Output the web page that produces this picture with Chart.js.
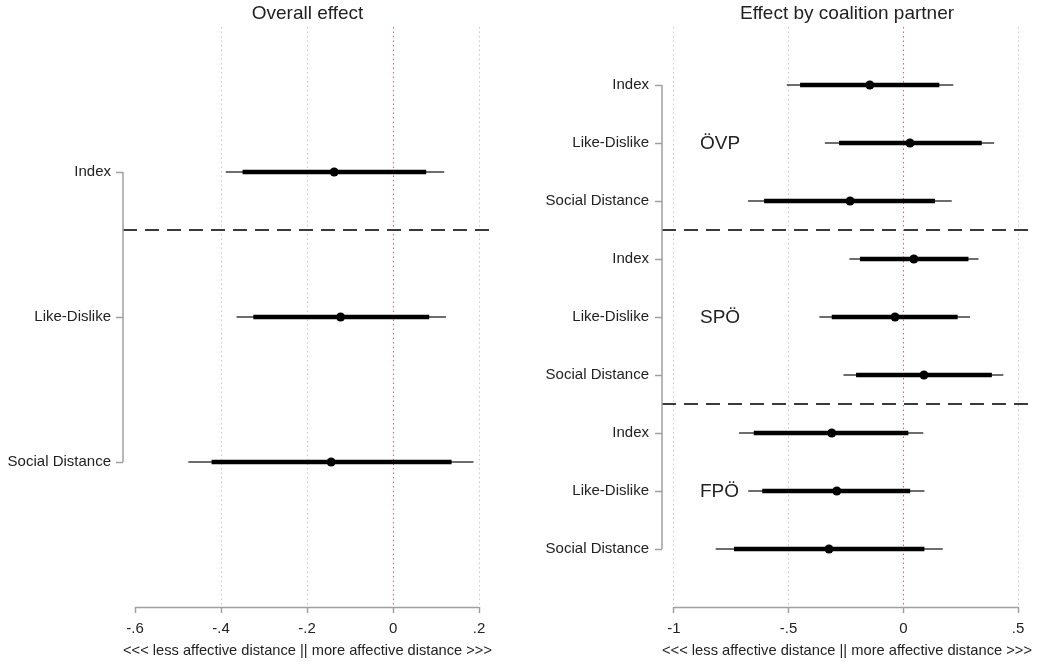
<!DOCTYPE html>
<html>
<head>
<meta charset="utf-8">
<script src="https://cdn.jsdelivr.net/npm/chart.js@4/dist/chart.umd.min.js"></script>
<style>
  body { margin: 0; background: #fff; }
  .panel { position: absolute; top: 0; width: 523px; height: 664px; }
</style>
</head>
<body>
<div class="panel" style="left:0"><canvas id="overallChart" width="523" height="664"></canvas></div>
<div class="panel" style="left:523px"><canvas id="partnerChart" width="523" height="664"></canvas></div>
<script>
// Overall effect
const measures = ['Index', 'Like-Dislike', 'Social Distance'];
const overallEst = [-0.137, -0.122, -0.144];
const overallLo95 = [-0.389, -0.364, -0.476];
const overallHi95 = [0.119, 0.123, 0.187];
const overallLo90 = [-0.350, -0.325, -0.422];
const overallHi90 = [0.077, 0.084, 0.136];
const overallTicks = [-0.6, -0.4, -0.2, 0, 0.2];
const overallSeps = [0.4];

// Effect by coalition partner (ÖVP, SPÖ, FPÖ x 3 measures)
const partners = ['ÖVP', 'SPÖ', 'FPÖ'];
const partnerRows = ['Index', 'Like-Dislike', 'Social Distance', 'Index', 'Like-Dislike', 'Social Distance', 'Index', 'Like-Dislike', 'Social Distance'];
const partnerEst = [-0.146, 0.029, -0.232, 0.046, -0.036, 0.090, -0.312, -0.290, -0.324];
const partnerLo95 = [-0.508, -0.342, -0.677, -0.235, -0.366, -0.261, -0.716, -0.676, -0.818];
const partnerHi95 = [0.218, 0.396, 0.211, 0.328, 0.291, 0.436, 0.087, 0.092, 0.172];
const partnerLo90 = [-0.450, -0.280, -0.607, -0.189, -0.312, -0.206, -0.652, -0.615, -0.738];
const partnerHi90 = [0.157, 0.342, 0.138, 0.284, 0.237, 0.386, 0.022, 0.030, 0.092];
const partnerTicks = [-1, -0.5, 0, 0.5];
const partnerSeps = [2.5, 5.5];

const axisTitle = '<<< less affective distance || more affective distance >>>';

Chart.defaults.font.family = '"Liberation Sans", Arial, sans-serif';
Chart.defaults.color = '#333';

const AXIS_GREY = '#a0a0a0';
const ZERO_RED = '#ee5a6a';

function fmtTick(v) {
    if (v === 0) return '0';
    return String(v).replace('0.', '.');
}

function buildDatasets(est, lo95, hi95, lo90, hi90, seps, xMin, xMax) {
    const sets = [{
        data: est.map((v, i) => ({ x: v, y: i })),
        pointRadius: 4.5,
        pointBorderWidth: 0,
        backgroundColor: '#000',
        order: 0,
    }];
    est.forEach((_, i) => {
        sets.push({
            data: [{ x: lo90[i], y: i }, { x: hi90[i], y: i }],
            showLine: true, borderColor: '#000', borderWidth: 4.5, pointRadius: 0, order: 1,
        });
        sets.push({
            data: [{ x: lo95[i], y: i }, { x: hi95[i], y: i }],
            showLine: true, borderColor: '#3c3c3c', borderWidth: 1.5, pointRadius: 0, order: 2,
        });
    });
    seps.forEach(s => {
        sets.push({
            data: [{ x: xMin, y: s }, { x: xMax, y: s }],
            showLine: true, borderColor: '#3a3a3a', borderWidth: 2, borderDash: [14, 8], pointRadius: 0, order: 3,
        });
    });
    return sets;
}

// axis lines only span first..last tick, like Stata
const axisLines = {
    id: 'axisLines',
    afterDraw(chart) {
        const { ctx, chartArea, scales: { x, y } } = chart;
        const xt = x.ticks, yt = y.ticks;
        ctx.save();
        ctx.strokeStyle = AXIS_GREY;
        ctx.lineWidth = 1.5;
        ctx.beginPath();
        ctx.moveTo(x.getPixelForValue(xt[0].value), chartArea.bottom + 0.5);
        ctx.lineTo(x.getPixelForValue(xt[xt.length - 1].value), chartArea.bottom + 0.5);
        ctx.moveTo(chartArea.left, y.getPixelForValue(yt[0].value));
        ctx.lineTo(chartArea.left, y.getPixelForValue(yt[yt.length - 1].value));
        ctx.stroke();
        ctx.restore();
    }
};

const groupLabels = {
    id: 'groupLabels',
    afterDatasetsDraw(chart) {
        const { ctx, chartArea, scales: { y } } = chart;
        ctx.save();
        ctx.font = '19px "Liberation Sans", Arial, sans-serif';
        ctx.fillStyle = '#222';
        ctx.textAlign = 'left';
        ctx.textBaseline = 'middle';
        partners.forEach((p, k) => {
            ctx.fillText(p, chartArea.left + 38, y.getPixelForValue(k * 3 + 1) + 1);
        });
        ctx.restore();
    }
};

function makeChart(id, cfg) {
    const ctx = document.getElementById(id).getContext('2d');
    // grid colour per tick: red at zero, optional hidden first line
    const gridColors = cfg.ticks.map((v, i) => {
        if (v === 0) return ZERO_RED;
        if (cfg.hideFirstGrid && i === 0) return 'rgba(0,0,0,0)';
        return '#c8c8c8';
    });
    return new Chart(ctx, {
        type: 'scatter',
        data: { datasets: buildDatasets(cfg.est, cfg.lo95, cfg.hi95, cfg.lo90, cfg.hi90, cfg.seps, cfg.xMin, cfg.xMax) },
        options: {
            responsive: false,
            animation: false,
            layout: { padding: { left: 0, right: cfg.padRight, top: 0, bottom: 0 } },
            plugins: {
                legend: { display: false },
                tooltip: { enabled: false },
                title: {
                    display: true,
                    text: cfg.title,
                    fullSize: false,
                    color: '#222',
                    font: { size: 19, weight: 'normal' },
                    padding: { top: 2, bottom: 2.2 },
                },
            },
            scales: {
                x: {
                    type: 'linear',
                    min: cfg.xMin,
                    max: cfg.xMax,
                    afterBuildTicks: s => { s.ticks = cfg.ticks.map(v => ({ value: v })); },
                    afterFit: s => { s.height = 57; },
                    ticks: { callback: v => fmtTick(v), color: '#222', font: { size: 15 }, padding: 7, maxRotation: 0, autoSkip: false },
                    grid: {
                        color: gridColors,
                        lineWidth: 1,
                        drawTicks: true,
                        tickLength: 6,
                        tickColor: AXIS_GREY,
                        tickWidth: 1.5,
                        tickBorderDash: [],
                    },
                    border: { display: false, dash: [1.5, 3] },
                    title: { display: true, text: axisTitle, color: '#222', font: { size: 15 }, padding: { top: 0, bottom: 4 } },
                },
                y: {
                    type: 'linear',
                    reverse: true,
                    min: -1,
                    max: cfg.rows.length,
                    afterBuildTicks: s => { s.ticks = cfg.rows.map((_, i) => ({ value: i })); },
                    afterFit: s => { s.width = cfg.yWidth; },
                    ticks: { callback: v => cfg.rows[v], color: '#222', font: { size: 15 }, padding: cfg.yPad, autoSkip: false },
                    grid: {
                        drawOnChartArea: false,
                        drawTicks: true,
                        tickLength: 7,
                        tickColor: AXIS_GREY,
                        tickWidth: 1.5,
                    },
                    border: { display: false },
                },
            },
        },
        plugins: cfg.extraPlugins,
    });
}

makeChart('overallChart', {
    title: 'Overall effect',
    rows: measures,
    est: overallEst, lo95: overallLo95, hi95: overallHi95, lo90: overallLo90, hi90: overallHi90,
    seps: overallSeps,
    ticks: overallTicks,
    xMin: -0.628, xMax: 0.230,
    yWidth: 123, yPad: 5, padRight: 31,
    hideFirstGrid: true,
    extraPlugins: [axisLines],
});

makeChart('partnerChart', {
    title: 'Effect by coalition partner',
    rows: partnerRows,
    est: partnerEst, lo95: partnerLo95, hi95: partnerHi95, lo90: partnerLo90, hi90: partnerHi90,
    seps: partnerSeps,
    ticks: partnerTicks,
    xMin: -1.052, xMax: 0.561,
    yWidth: 139, yPad: 6, padRight: 14,
    hideFirstGrid: false,
    extraPlugins: [axisLines, groupLabels],
});
</script>
</body>
</html>
